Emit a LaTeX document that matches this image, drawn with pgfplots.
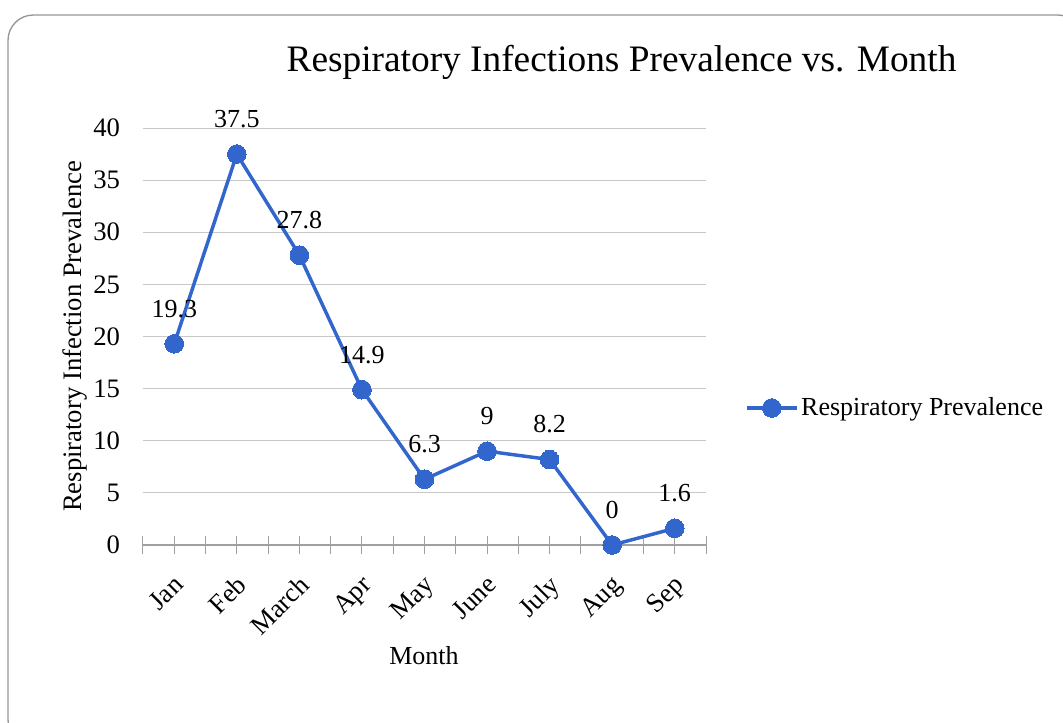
\documentclass[border=0pt]{standalone}
\usepackage{pgfplots}
\pgfplotsset{compat=1.18}
\usepackage{fontspec}
\setmainfont{Liberation Serif}
\definecolor{serblue}{RGB}{51,102,204}
\definecolor{gridgray}{RGB}{200,200,200}
\definecolor{axgray}{RGB}{160,160,160}
\definecolor{framegray}{RGB}{150,150,150}
\begin{document}
\fontsize{19.5}{23}\selectfont
\begin{tikzpicture}
\useasboundingbox (-107.25pt,-132.75pt) rectangle (690pt,408.75pt);
\draw[framegray, line width=1pt, rounded corners=19pt] (-101.25pt,397.5pt) rectangle (705pt,-150pt);
\begin{axis}[
  at={(0,0)}, anchor=south west,
  scale only axis, width=422.25pt, height=312.75pt,
  xmin=-0.5, xmax=8.5, ymin=0, ymax=40,
  clip=false,
  xtick={0,...,8},
  xticklabels={Jan,Feb,March,Apr,May,June,July,Aug,Sep},
  minor xtick={-0.5,0.5,...,8.5},
  ytick={0,5,...,40},
  ymajorgrids, grid style={gridgray, line width=0.75pt},
  axis lines*=left,
  y axis line style={draw=none},
  x axis line style={axgray, line width=1pt},
  ytick style={draw=none},
  xtick style={axgray, line width=0.75pt},
  tick align=center,
  major tick length=13pt, minor tick length=13pt,
  /pgf/number format/assume math mode=true,
  every tick label/.append style={font=\fontsize{20}{24}\selectfont},
  yticklabel style={xshift=-4pt},
  xticklabel style={xshift=-1.5pt, yshift=-15pt, rotate=45, anchor=north east, inner sep=0pt},
  nodes near coords,
  every node near coord/.append style={anchor=base, yshift=20pt, font=\fontsize{19.5}{23}\selectfont, text=black},
  legend style={at={(1.069,0.3285)}, anchor=west, draw=none, fill=none, inner sep=0pt, font=\fontsize{19.5}{23}\selectfont},
  legend image code/.code={\draw[mark repeat=2,mark phase=2,#1] plot coordinates {(0pt,0pt) (18.75pt,0pt) (37.5pt,0pt)};},
]
\addplot[serblue, line width=2.6pt, mark=*, mark size=7pt, mark options={fill=serblue, draw=serblue, line width=0pt}]
  coordinates {(0,19.3)(1,37.5)(2,27.8)(3,14.9)(4,6.3)(5,9)(6,8.2)(7,0)(8,1.6)};
\addlegendentry{Respiratory Prevalence}
\end{axis}
\node[anchor=base, font=\fontsize{28}{32}\selectfont] at (358.9pt,354.75pt) {Respiratory Infections Prevalence vs. Month};
\node[anchor=base] at (210.75pt,-89.25pt) {Month};
\node[anchor=base, rotate=90, font=\fontsize{20}{24}\selectfont] at (-45.75pt,156.4pt) {Respiratory Infection Prevalence};
\end{tikzpicture}
\end{document}
